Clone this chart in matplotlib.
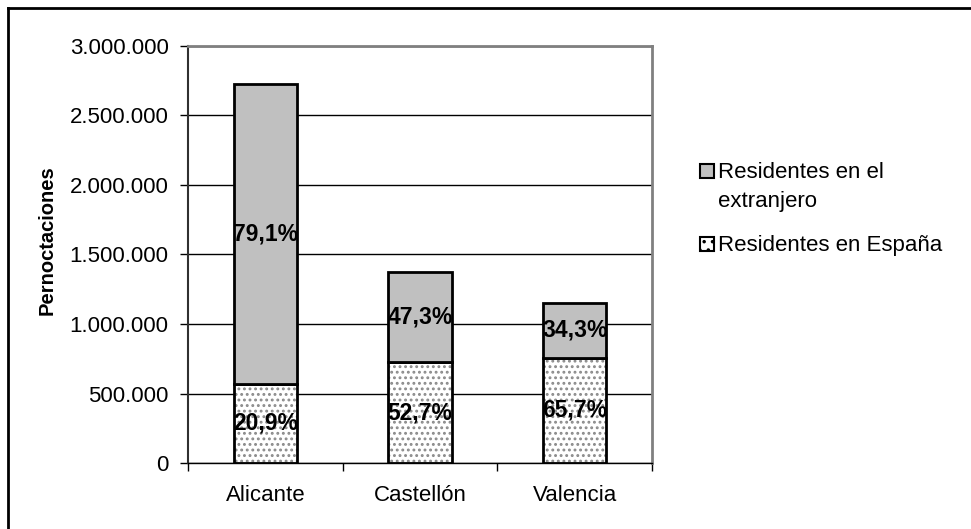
#-*- coding:utf-8 -*-
# Pernoctaciones por provincia, residentes en España / extranjero

import numpy as np
import matplotlib
matplotlib.use("Agg")
import matplotlib.pyplot as plt
from matplotlib.patches import Rectangle
from matplotlib.ticker import FuncFormatter, FixedLocator

plt.rcParams['font.family'] = ['Liberation Sans', 'DejaVu Sans']
plt.rcParams['hatch.linewidth'] = 1.3

provincias = ['Alicante', 'Castellón', 'Valencia']
espana = [570000, 724000, 756000]
extranjero = [2157000, 650000, 395000]
pct_espana = ['20,9%', '52,7%', '65,7%']
pct_extranjero = ['79,1%', '47,3%', '34,3%']
label_espana = 'Residentes en España'
label_extranjero = ['Residentes en el', 'extranjero']

W, H = 971, 529
fig = plt.figure(figsize=(W / 100, H / 100), dpi=100)
ax = fig.add_axes([188 / W, (H - 463) / H, (652 - 188) / W, (463 - 46) / H])

x = np.arange(len(provincias))
width = 0.41
espana = np.asarray(espana)
extranjero = np.asarray(extranjero)

# gridlines behind everything
ax.set_axisbelow(True)
ax.yaxis.grid(True, color='black', linewidth=1)

# dotted part: hatch with grey dots, then black outline on top
ax.bar(x, espana, width=width, color='white', edgecolor='#8a8a8a', hatch='...',
       linewidth=0)
ax.bar(x, espana, width=width, fill=False, edgecolor='black', linewidth=2)
ax.bar(x, extranjero, width=width, bottom=espana, color='#c0c0c0',
       edgecolor='black', linewidth=2)

for i in range(len(x)):
    ax.text(x[i], espana[i] / 2, pct_espana[i], ha='center', va='center',
            fontsize=16.5, fontweight='bold')
    ax.text(x[i], espana[i] + extranjero[i] / 2, pct_extranjero[i], ha='center',
            va='center', fontsize=16.5, fontweight='bold')

ax.set_xlim(-0.5, 2.5)
ax.set_ylim(0, 3000000)
ax.set_yticks(np.arange(0, 3000001, 500000))
ax.yaxis.set_major_formatter(FuncFormatter(lambda v, p: f"{int(v):,}".replace(",", ".")))
ax.tick_params(axis='y', direction='out', length=6, width=1, pad=8, labelsize=16)

ax.set_xticks(x)
ax.set_xticklabels(provincias, fontsize=16)
ax.xaxis.set_minor_locator(FixedLocator([-0.5, 0.5, 1.5, 2.5]))
ax.tick_params(axis='x', which='major', length=0, pad=16)
ax.tick_params(axis='x', which='minor', direction='out', length=6, width=1)

ax.set_ylabel('Pernoctaciones', fontsize=14.5, fontweight='bold')
ax.yaxis.set_label_coords(-0.283, 0.535)

ax.spines['top'].set_color('#808080')
ax.spines['top'].set_linewidth(2)
ax.spines['right'].set_color('#808080')
ax.spines['right'].set_linewidth(2)
ax.spines['left'].set_color('#303030')
ax.spines['left'].set_linewidth(1.5)
ax.spines['bottom'].set_color('black')
ax.spines['bottom'].set_linewidth(1)

# legend drawn by hand so the key sits on the first line of the wrapped label
def fx(px):
    return px / W

def fy(py):
    return 1 - py / H

sq = 14
fig.add_artist(Rectangle((fx(700), fy(171 + sq / 2)), sq / W, sq / H,
                         facecolor='#c0c0c0', edgecolor='black', linewidth=1.5,
                         transform=fig.transFigure))
fig.add_artist(Rectangle((fx(700), fy(244 + sq / 2)), sq / W, sq / H,
                         facecolor='white', edgecolor='black', hatch='..',
                         linewidth=1.5, transform=fig.transFigure))
fig.text(fx(718), fy(172), label_extranjero[0], fontsize=16, va='center', ha='left')
fig.text(fx(718), fy(201), label_extranjero[1], fontsize=16, va='center', ha='left')
fig.text(fx(718), fy(245), label_espana, fontsize=16, va='center', ha='left')

# outer chart frame (top and left edges visible)
fig.add_artist(plt.Line2D([8 / W, 1], [1 - 8 / H, 1 - 8 / H], color='black', linewidth=2,
                          transform=fig.transFigure))
fig.add_artist(plt.Line2D([8 / W, 8 / W], [0, 1 - 8 / H], color='black', linewidth=2,
                          transform=fig.transFigure))

fig.savefig('out.png', dpi=100)
